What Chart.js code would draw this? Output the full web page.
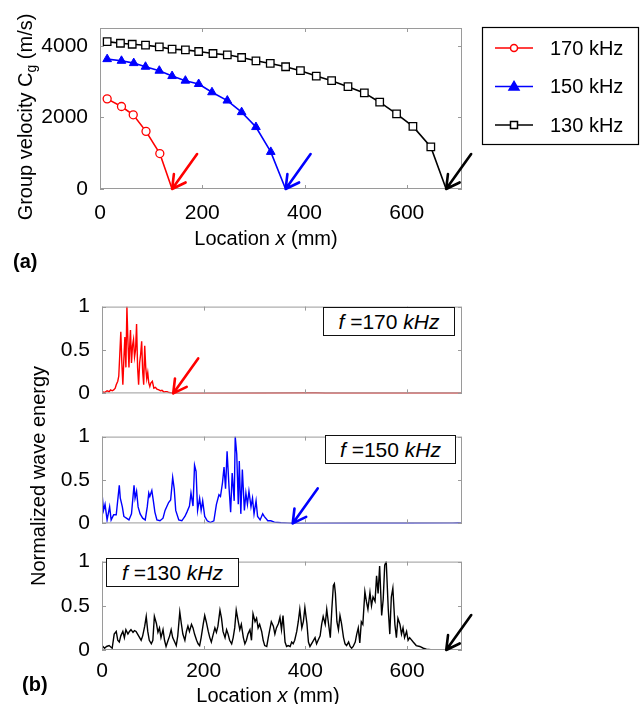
<!DOCTYPE html>
<html>
<head>
<meta charset="utf-8">
<script src="https://cdn.jsdelivr.net/npm/chart.js@4.4.0/dist/chart.umd.min.js"></script>
<style>
  body { margin: 0; background: #fff; width: 644px; height: 704px; position: relative; overflow: hidden;
         font-family: "Liberation Sans", Arial, sans-serif; color: #000; }
  canvas { position: absolute; left: 0; }
  .lbl { position: absolute; white-space: nowrap; font-size: 20px; line-height: 1; }
  .ctr { transform: translate(-50%, -50%); }
  .rot { transform: translate(-50%, -50%) rotate(-90deg); }
  .tag { position: absolute; font-size: 20px; font-weight: bold; line-height: 1; }
  .fbox { position: absolute; box-sizing: border-box; border: 1.6px solid #111; background: #fff;
          font-size: 21px; line-height: 1; display: flex; align-items: center; justify-content: center; }
  sub { font-size: 14px; vertical-align: -4px; }
</style>
</head>
<body>
<canvas id="cA" width="644" height="270" style="top:0"></canvas>
<canvas id="cB1" width="644" height="120" style="top:290px"></canvas>
<canvas id="cB2" width="644" height="120" style="top:420px"></canvas>
<canvas id="cB3" width="644" height="159" style="top:545px"></canvas>

<div class="lbl rot" style="left:26px;top:117px">Group velocity C<sub>g</sub> (m/s)</div>
<div class="lbl ctr" style="left:266px;top:238px">Location <i>x</i> (mm)</div>
<div class="tag" style="left:13px;top:251px">(a)</div>

<div class="lbl rot" style="left:38px;top:476px">Normalized wave energy</div>
<div class="lbl ctr" style="left:268px;top:695px">Location <i>x</i> (mm)</div>
<div class="tag" style="left:22px;top:674px">(b)</div>

<div class="fbox" style="left:323px;top:307px;width:132px;height:29px"><i>f</i>&nbsp;=170&nbsp;<i>kHz</i></div>
<div class="fbox" style="left:325px;top:435px;width:131px;height:29px"><i>f</i>&nbsp;=150&nbsp;<i>kHz</i></div>
<div class="fbox" style="left:106px;top:558px;width:133px;height:29px"><i>f</i>&nbsp;=130&nbsp;<i>kHz</i></div>

<script>
// (a) group velocity vs location
const x170 = [14, 42, 65, 90, 117, 141];
const cg170 = [2520, 2306, 2074, 1611, 991, 0];
const x150 = [14, 42, 66, 89, 116, 141, 167, 193, 219, 249, 277, 305, 334, 363];
const cg150 = [3630, 3583, 3519, 3417, 3306, 3157, 3028, 2935, 2704, 2472, 2148, 1731, 1037, 0];
const x130 = [14, 40, 63, 89, 116, 141, 167, 193, 221, 249, 277, 305, 333, 363, 392, 423, 453, 485, 517, 547, 580, 612, 647, 677];
const cg130 = [4120, 4074, 4046, 4019, 3972, 3907, 3889, 3843, 3787, 3750, 3676, 3583, 3509, 3417, 3306, 3157, 3028, 2861, 2685, 2426, 2102, 1750, 1176, 0];
const freqLabels = ["170 kHz", "150 kHz", "130 kHz"];

// tick values
const xTicks = [0, 200, 400, 600];
const cgTicks = [0, 2000, 4000];
const energyTicks = [0, 0.5, 1];

// arrow tips (location, mm) where the waves stop
const arrowTipsA = [141, 363, 677];
const arrowTipsB = [140, 375, 677];

// (b) normalized wave energy, [location mm, energy]
const energy170 = [
  [0,0.02],[5,0.01],[10,0.03],[14,0.02],[17,0.04],[20,0.03],[23,0.04],[26,0.06],[28,0.1],[31,0.14],
  [33,0.2],[35,0.45],[37,0.71],[39,0.35],[41,0.1],[43,0.4],[45,0.65],[47,0.3],[49,1.0],[51,0.6],
  [53,0.3],[55,0.62],[56,0.73],[58,0.35],[60,0.55],[62,0.62],[64,0.42],[66,0.5],[68,0.8],[70,0.3],
  [72,0.1],[74,0.35],[76,0.45],[78,0.6],[80,0.25],[82,0.1],[84,0.55],[86,0.3],[88,0.17],[90,0.24],
  [92,0.12],[94,0.08],[96,0.12],[99,0.14],[102,0.06],[105,0.07],[108,0.05],[112,0.04],[115,0.03],
  [118,0.035],[122,0.015],[125,0.02],[128,0.02],[132,0.01],[136,0.005],[140,0],[300,0.001],
  [420,0.004],[440,0.002],[708,0.002]
];
const energy150 = [
  [0,0.35],[3,0.15],[6,0.22],[10,0.04],[15,0.19],[18,0.04],[23,0.1],[28,0.1],[34,0.44],[36,0.29],
  [40,0.19],[43,0.08],[48,0.06],[53,0.04],[58,0.11],[63,0.44],[65,0.29],[68,0.37],[71,0.19],[75,0.11],
  [80,0.06],[85,0.04],[89,0.19],[92,0.35],[94,0.31],[98,0.38],[101,0.26],[104,0.13],[108,0.04],[114,0.03],
  [120,0.06],[124,0.15],[131,0.24],[135,0.27],[139,0.53],[142,0.4],[145,0.15],[151,0.04],[157,0.03],[163,0.08],
  [167,0.13],[172,0.2],[175,0.35],[179,0.2],[182,0.67],[185,0.6],[188,0.15],[192,0.29],[195,0.15],[198,0.26],
  [202,0.08],[207,0.03],[213,0.01],[220,0.03],[225,0.22],[230,0.33],[233,0.31],[237,0.47],[240,0.65],[243,0.4],
  [246,0.83],[250,0.4],[253,0.13],[256,0.58],[260,0.26],[262,1.0],[265,0.8],[268,0.22],[270,0.72],[273,0.11],
  [276,0.62],[280,0.15],[283,0.35],[286,0.22],[289,0.37],[293,0.19],[296,0.29],[299,0.11],[303,0.26],[306,0.08],
  [311,0.04],[316,0.11],[319,0.08],[322,0.06],[326,0.03],[332,0.03],[339,0.015],[352,0.007],[365,0.003],
  [375,0],[500,0.002],[600,0.002],[690,0.003],[700,0.006],[708,0.002]
];
const energy130 = [
  [0,0.05],[5,0.02],[9,0.04],[14,0.05],[20,0.02],[24,0.18],[28,0.21],[31,0.11],[34,0.09],[37,0.16],
  [41,0.21],[44,0.14],[47,0.23],[51,0.18],[54,0.21],[57,0.23],[61,0.2],[64,0.22],[67,0.21],[70,0.18],
  [74,0.14],[77,0.11],[80,0.16],[84,0.27],[87,0.38],[90,0.21],[93,0.11],[97,0.07],[100,0.11],[103,0.38],
  [107,0.3],[110,0.2],[113,0.25],[116,0.14],[120,0.23],[123,0.11],[126,0.04],[130,0.11],[133,0.16],[136,0.23],
  [139,0.14],[143,0.09],[146,0.05],[149,0.16],[153,0.43],[156,0.3],[159,0.18],[163,0.11],[166,0.21],[169,0.27],
  [172,0.21],[176,0.29],[179,0.25],[182,0.18],[186,0.11],[189,0.07],[192,0.05],[195,0.14],[199,0.29],[202,0.39],
  [205,0.32],[209,0.21],[212,0.14],[215,0.09],[218,0.16],[222,0.25],[225,0.2],[228,0.27],[232,0.45],[235,0.36],
  [238,0.21],[242,0.14],[245,0.23],[248,0.18],[251,0.11],[255,0.07],[258,0.14],[261,0.25],[264,0.45],[268,0.32],
  [271,0.23],[274,0.29],[278,0.14],[281,0.07],[284,0.11],[287,0.18],[291,0.23],[294,0.11],[297,0.41],[301,0.32],
  [304,0.36],[307,0.25],[310,0.29],[314,0.21],[317,0.11],[320,0.05],[324,0.04],[327,0.14],[330,0.23],[333,0.32],
  [337,0.27],[340,0.18],[343,0.25],[347,0.3],[350,0.37],[353,0.23],[356,0.39],[360,0.09],[363,0.04],[366,0.05],
  [370,0.04],[373,0.09],[376,0.07],[379,0.11],[383,0.21],[386,0.32],[389,0.46],[393,0.25],[396,0.32],[399,0.48],
  [403,0.3],[406,0.09],[409,0.04],[412,0.07],[416,0.11],[419,0.14],[422,0.07],[425,0.11],[429,0.16],[432,0.29],
  [435,0.38],[439,0.29],[442,0.46],[445,0.32],[449,0.14],[452,0.46],[455,0.73],[457,0.75],[459,0.64],[462,0.32],
  [465,0.23],[468,0.39],[471,0.3],[475,0.14],[478,0.07],[481,0.05],[485,0.09],[488,0.04],[491,0.02],[494,0.04],
  [498,0.09],[501,0.18],[504,0.25],[507,0.08],[510,0.32],[513,0.29],[517,0.66],[520,0.55],[523,0.46],[527,0.65],
  [530,0.5],[533,0.6],[537,0.55],[540,0.84],[543,0.64],[546,0.95],[550,0.39],[553,0.57],[556,0.96],[559,1.0],
  [563,0.46],[566,0.18],[569,0.6],[572,0.7],[576,0.29],[579,0.14],[582,0.36],[586,0.29],[589,0.18],[592,0.25],
  [595,0.14],[599,0.21],[602,0.11],[605,0.14],[612,0.09],[618,0.05],[625,0.04],[632,0.02],[638,0.01],[651,0],
  [677,0],[708,0]
];

const RED = "#ff0000", BLUE = "#0000ff", BLACK = "#000000";
const FONT = '"Liberation Sans", Arial, sans-serif';
Chart.defaults.font.family = FONT;
Chart.defaults.color = "#000";

// matlab style box with inward ticks
const framePlugin = {
  id: "frame",
  afterDatasetsDraw(chart) {
    const { ctx, chartArea: a, scales } = chart;
    ctx.save();
    ctx.strokeStyle = "#9a9a9a";
    ctx.lineWidth = 1;
    ctx.strokeRect(a.left + 0.5, a.top + 0.5, a.right - a.left - 1, a.bottom - a.top - 1);
    ctx.beginPath();
    scales.x.ticks.forEach(t => {
      const px = Math.round(scales.x.getPixelForValue(t.value)) + 0.5;
      ctx.moveTo(px, a.bottom); ctx.lineTo(px, a.bottom - 4);
      ctx.moveTo(px, a.top); ctx.lineTo(px, a.top + 4);
    });
    scales.y.ticks.forEach(t => {
      const py = Math.round(scales.y.getPixelForValue(t.value)) + 0.5;
      ctx.moveTo(a.left, py); ctx.lineTo(a.left + 4, py);
      ctx.moveTo(a.right, py); ctx.lineTo(a.right - 4, py);
    });
    ctx.stroke();
    ctx.restore();
  }
};

// arrows pointing at the stop location
const arrowPlugin = {
  id: "arrows",
  afterDraw(chart, args, opts) {
    if (!opts.tips) return;
    const { ctx, scales } = chart;
    ctx.save();
    ctx.lineWidth = 2.6;
    ctx.lineCap = "round";
    opts.tips.forEach((tx, i) => {
      const x = scales.x.getPixelForValue(tx), y = scales.y.getPixelForValue(0);
      const ex = x + 25, ey = y - 35;
      const ang = Math.atan2(ey - y, ex - x);
      ctx.strokeStyle = opts.colors[i];
      ctx.beginPath();
      ctx.moveTo(ex, ey); ctx.lineTo(x, y);
      [-0.5, 0.5].forEach(d => {
        ctx.moveTo(x, y);
        ctx.lineTo(x + 15 * Math.cos(ang + d), y + 15 * Math.sin(ang + d));
      });
      ctx.stroke();
    });
    ctx.restore();
  }
};

// boxed legend at the right of panel (a)
const boxLegend = {
  id: "boxLegend",
  afterDraw(chart) {
    const { ctx } = chart;
    ctx.save();
    ctx.strokeStyle = "#000";
    ctx.lineWidth = 1.2;
    ctx.strokeRect(482.5, 27.5, 156, 117);
    chart.data.datasets.forEach((ds, i) => {
      const y = 48 + i * 38.5;
      ctx.strokeStyle = ds.borderColor;
      ctx.lineWidth = 1.5;
      ctx.beginPath(); ctx.moveTo(495, y); ctx.lineTo(533, y); ctx.stroke();
      ctx.fillStyle = ds.pointBackgroundColor;
      ctx.beginPath();
      if (ds.pointStyle === "circle") ctx.arc(514, y, 3.5, 0, Math.PI * 2);
      else if (ds.pointStyle === "triangle") { ctx.moveTo(514, y - 5); ctx.lineTo(519, y + 3.5); ctx.lineTo(509, y + 3.5); ctx.closePath(); }
      else ctx.rect(510.5, y - 3.5, 7, 7);
      ctx.fill(); ctx.stroke();
      ctx.fillStyle = "#000";
      ctx.font = "20px " + FONT;
      ctx.textBaseline = "middle";
      ctx.fillText(freqLabels[i], 550, y + 1);
    });
    ctx.restore();
  }
};

const pts = (xs, ys) => xs.map((x, i) => ({ x: x, y: ys[i] }));
const hideLast = c => c.dataIndex === c.dataset.data.length - 1 ? 0 : c.dataset.markerSize;
const fixTicks = vals => s => { s.ticks = vals.map(v => ({ value: v })); };

function xScale(h, showLabels, pad) {
  return {
    type: "linear", min: 0, max: 708,
    grid: { display: false }, border: { display: false },
    afterBuildTicks: fixTicks(xTicks),
    ticks: { display: showLabels, padding: pad, font: { size: 21 }, maxRotation: 0, autoSkip: false,
             callback: v => String(v) },
    afterFit(s) { s.height = h; }
  };
}
function yScale(max, vals, w) {
  return {
    min: 0, max: max,
    grid: { display: false }, border: { display: false },
    afterBuildTicks: fixTicks(vals),
    ticks: { padding: 4, font: { size: 21 }, autoSkip: false, callback: v => String(v) },
    afterFit(s) { s.width = w; }
  };
}

new Chart(document.getElementById("cA"), {
  type: "line",
  data: {
    datasets: [
      { label: freqLabels[0], data: pts(x170, cg170), borderColor: RED, borderWidth: 1.6,
        pointStyle: "circle", markerSize: 4, pointRadius: hideLast,
        pointBackgroundColor: "#fff", pointBorderColor: RED, pointBorderWidth: 1.3 },
      { label: freqLabels[1], data: pts(x150, cg150), borderColor: BLUE, borderWidth: 1.6,
        pointStyle: "triangle", markerSize: 5, pointRadius: hideLast,
        pointBackgroundColor: BLUE, pointBorderColor: BLUE, pointBorderWidth: 1 },
      { label: freqLabels[2], data: pts(x130, cg130), borderColor: BLACK, borderWidth: 1.6,
        pointStyle: "rect", markerSize: 5.3, pointRadius: hideLast,
        pointBackgroundColor: "#fff", pointBorderColor: BLACK, pointBorderWidth: 1.3 }
    ]
  },
  options: {
    responsive: false, animation: false,
    layout: { padding: { left: 0, top: 28, right: 182, bottom: 0 } },
    plugins: { legend: { display: false }, tooltip: { enabled: false },
               arrows: { tips: arrowTipsA, colors: [RED, BLUE, BLACK] } },
    scales: { x: xScale(81, true, 4), y: yScale(4500, cgTicks, 100) }
  },
  plugins: [framePlugin, arrowPlugin, boxLegend]
});

function energyChart(id, series, color, tip, top, xh, showX) {
  new Chart(document.getElementById(id), {
    type: "line",
    data: { datasets: [{ data: series, borderColor: color, borderWidth: 1.4, pointRadius: 0, tension: 0 }] },
    options: {
      responsive: false, animation: false,
      layout: { padding: { left: 0, top: top, right: 182, bottom: 0 } },
      plugins: { legend: { display: false }, tooltip: { enabled: false },
                 arrows: { tips: [tip], colors: [color] } },
      scales: { x: xScale(xh, showX, 1), y: yScale(1, energyTicks, 102) }
    },
    plugins: [framePlugin, arrowPlugin]
  });
}
energyChart("cB1", energy170, RED, arrowTipsB[0], 13, 14, false);
energyChart("cB2", energy150, BLUE, arrowTipsB[1], 11, 16, false);
energyChart("cB3", energy130, BLACK, arrowTipsB[2], 12, 54, true);
</script>
</body>
</html>
